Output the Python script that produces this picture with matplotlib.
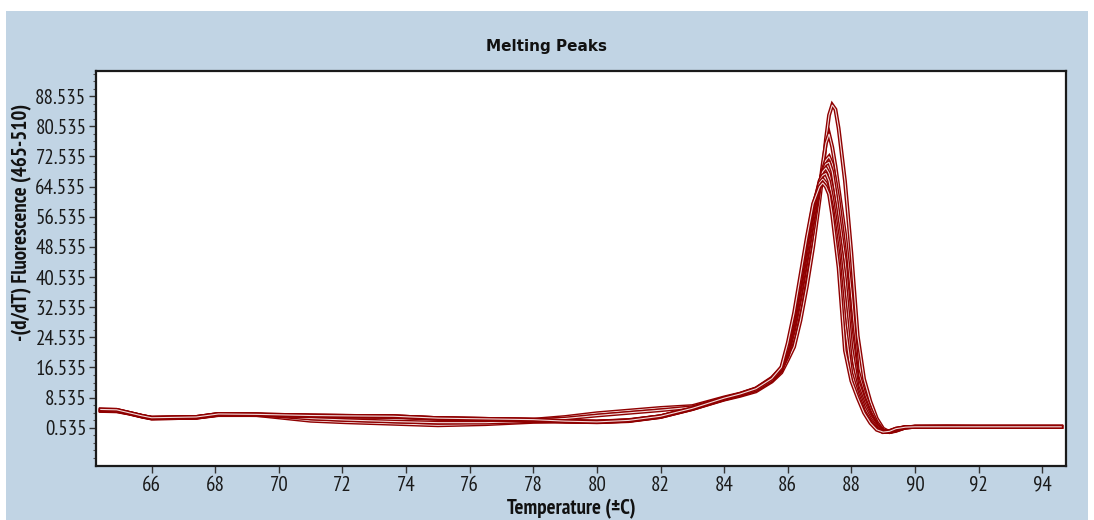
import numpy as np
import matplotlib
matplotlib.use("Agg")
import matplotlib.pyplot as plt
import matplotlib.patheffects as pe
from matplotlib.patches import Rectangle
from matplotlib.ticker import FixedLocator

# temperatures (deg C) shared by every sample
base_temp = [64.4, 64.9, 65.3, 65.7, 66.0, 67.4, 68.1, 69.3, 71.0, 72.1, 73.6, 75.0,
             76.5, 78.0, 79.0, 80.0, 81.0, 82.0, 83.0, 84.0, 84.5, 85.0, 85.5, 85.8]
peak_temp = [86.0, 86.2, 86.4, 86.6, 86.8, 87.0, 87.1, 87.2, 87.3, 87.4, 87.5, 87.6,
             87.8, 88.0, 88.2, 88.4, 88.6, 88.8, 89.0, 89.2, 89.4, 89.7, 90.0, 91.0,
             92.0, 93.0, 94.6]

# -(d/dT) fluorescence, baseline part
base_vals = [
    [5.0, 4.9, 4.3, 3.5, 3.0, 3.2, 3.9, 3.9, 2.4, 2.0, 1.6, 1.2, 1.5, 2.1, 2.2, 2.1, 2.4, 3.4, 5.5, 8.0, 9.0, 10.2, 12.8, 15.2],
    [5.4, 5.3, 4.5, 3.7, 3.2, 3.4, 4.2, 4.1, 3.0, 2.6, 2.2, 1.9, 1.9, 2.3, 2.3, 2.2, 2.6, 3.6, 5.7, 8.3, 9.4, 10.8, 13.4, 16.0],
    [5.2, 5.1, 4.4, 3.6, 3.1, 3.3, 4.0, 4.0, 3.7, 3.6, 3.5, 3.0, 2.8, 2.7, 3.4, 4.4, 5.1, 5.8, 6.3, 8.6, 9.6, 11.0, 13.8, 16.5],
    [5.3, 5.2, 4.4, 3.6, 3.2, 3.3, 4.1, 4.0, 3.8, 3.7, 3.6, 3.1, 2.9, 2.6, 3.0, 3.8, 4.5, 5.2, 6.0, 8.4, 9.5, 10.9, 13.6, 16.2],
    [5.1, 5.0, 4.3, 3.5, 3.0, 3.2, 4.0, 3.9, 3.6, 3.5, 3.4, 2.9, 2.7, 2.5, 2.2, 2.0, 2.3, 3.4, 5.5, 8.1, 9.2, 10.5, 13.1, 15.6],
    [5.3, 5.2, 4.5, 3.7, 3.2, 3.4, 4.2, 4.1, 3.8, 3.7, 3.6, 3.1, 2.9, 2.7, 2.3, 2.2, 2.5, 3.6, 5.7, 8.3, 9.3, 10.7, 13.3, 16.0],
    [5.2, 5.1, 4.4, 3.6, 3.1, 3.3, 4.1, 4.0, 3.7, 3.6, 3.5, 3.0, 2.8, 2.6, 2.2, 2.1, 2.4, 3.5, 5.6, 8.2, 9.3, 10.6, 13.2, 16.2],
    [5.4, 5.3, 4.5, 3.7, 3.2, 3.4, 4.2, 4.1, 3.8, 3.7, 3.6, 3.1, 2.9, 2.7, 2.3, 2.1, 2.5, 3.6, 5.7, 8.4, 9.5, 10.9, 13.6, 16.6],
]
# -(d/dT) fluorescence, melting peak part
peak_vals = [
    [18.5, 22, 29, 38, 48.5, 61, 68, 77, 83.5, 86.2, 85, 80, 66, 47, 25, 13.5, 7.5, 3, 0.3, -0.6, -0.3, 0.6, 0.8, 0.8, 0.8, 0.8, 0.8],
    [19.5, 25, 33, 43, 53, 64, 70.5, 76, 78.5, 75, 70, 64, 52, 36, 16, 10, 5.5, 2, -0.2, -0.6, -0.2, 0.6, 0.8, 0.9, 0.8, 0.8, 0.8],
    [20, 26.5, 35, 45, 55, 64.5, 69, 71.5, 72.5, 70.5, 66, 61, 47.5, 29, 14, 8.7, 4.5, 1.5, -0.3, -0.6, -0.1, 0.6, 0.8, 0.8, 0.8, 0.8, 0.8],
    [20.5, 27.5, 36, 46, 56, 65, 68.5, 70.5, 71, 68.5, 63, 57, 45, 26, 13, 8, 4, 1.2, -0.4, -0.6, 0.0, 0.7, 0.8, 0.8, 0.8, 0.8, 0.8],
    [21, 28.5, 37.5, 47.5, 57.5, 65.5, 68.5, 69.5, 68, 64, 59, 53, 40, 22, 11.5, 7, 3.5, 1.0, -0.5, -0.5, 0.1, 0.7, 0.8, 0.8, 0.8, 0.8, 0.8],
    [21.5, 29.5, 38.5, 49, 58.5, 66, 67.5, 68, 66, 61.5, 56, 50, 34, 17.5, 10.5, 6, 2.8, 0.6, -0.6, -0.4, 0.2, 0.7, 0.8, 0.8, 0.8, 0.8, 0.8],
    [22, 30, 39.5, 50, 59.5, 65.5, 66.5, 65.5, 63, 59, 53, 46.5, 28, 15, 9.5, 5, 2.2, 0.3, -0.6, -0.3, 0.3, 0.7, 0.8, 0.8, 0.8, 0.8, 0.8],
    [23, 31, 41, 51, 60, 64.5, 65.5, 64.5, 62.5, 57, 50, 43, 21, 13, 8.5, 4.5, 1.8, 0.0, -0.6, -0.4, 0.3, 0.7, 0.8, 0.8, 0.8, 0.8, 0.8],
]

y_ticks = [0.535, 8.535, 16.535, 24.535, 32.535, 40.535, 48.535, 56.535, 64.535, 72.535, 80.535, 88.535]
x_ticks = [66, 68, 70, 72, 74, 76, 78, 80, 82, 84, 86, 88, 90, 92, 94]

narrow = ['PT Sans Narrow', 'Roboto Condensed', 'IBM Plex Sans Condensed', 'DejaVu Sans']
line_col = '#8f0000'
panel_col = '#c1d4e4'

fig = plt.figure(figsize=(10.94, 5.2), dpi=100)
fig.patch.set_facecolor('white')
fig.patches.append(Rectangle((6 / 1094, 0), 1082 / 1094, 1 - 11 / 520,
                             transform=fig.transFigure, facecolor=panel_col,
                             edgecolor='none', zorder=-5))

ax = fig.add_axes([96 / 1094, 1 - 466 / 520, 970 / 1094, 395 / 520])
ax.set_facecolor('white')

temp = base_temp + peak_temp
for b, p in zip(base_vals, peak_vals):
    ax.plot(temp, b + p, color='#f3dcdc', lw=0.8, solid_joinstyle='miter',
            path_effects=[pe.Stroke(linewidth=2.8, foreground=line_col), pe.Normal()])

ax.set_xlim(64.25, 94.75)
ax.set_ylim(-9.6, 95.2)
ax.set_xticks(x_ticks)
ax.set_yticks(y_ticks)
ax.set_yticklabels(['%.3f' % v for v in y_ticks])
ax.yaxis.set_minor_locator(FixedLocator(np.arange(-7.465, 95, 2)))
ax.tick_params(axis='both', which='major', direction='out', length=5, width=1,
               color='#333333', labelcolor='#1a1a1a', labelsize=15, pad=2)
ax.tick_params(axis='y', which='minor', direction='out', length=2.5, width=0.8, color='#555555')
for lab in ax.get_xticklabels() + ax.get_yticklabels():
    lab.set_family(narrow)

for s in ax.spines.values():
    s.set_color('#1a1a1a')
    s.set_linewidth(1.6)

fig.text(547 / 1094, 1 - 47 / 520, 'Melting Peaks', ha='center', va='center',
         fontsize=11, fontweight='bold', family=['DejaVu Sans'], color='#111111')

ax.set_xlabel('Temperature (±C)', fontsize=15, fontweight='bold', family=narrow, color='#111111')
ax.xaxis.set_label_coords(0.49, -0.084)
ax.set_ylabel('-(d/dT) Fluorescence (465-510)', fontsize=15, fontweight='bold',
              family=narrow, color='#111111')
ax.yaxis.set_label_coords(-0.066, 0.618)

fig.savefig('out.png', dpi=100, facecolor=fig.get_facecolor())
